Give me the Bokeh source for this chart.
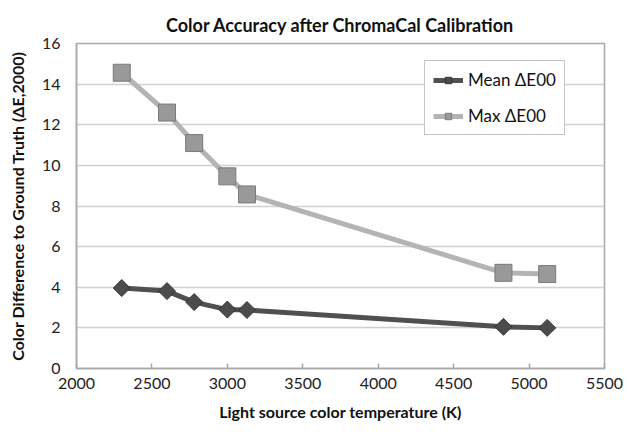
import math
from bokeh.plotting import figure
from bokeh.models import Legend, LegendItem
from bokeh.embed import file_html
from bokeh.resources import INLINE

# Data
temps = [2300, 2600, 2780, 3000, 3130, 4830, 5120]
mean_de = [3.96, 3.81, 3.27, 2.90, 2.88, 2.05, 2.00]
max_de = [14.56, 12.60, 11.10, 9.46, 8.57, 4.71, 4.65]
x_ticks = [2000, 2500, 3000, 3500, 4000, 4500, 5000, 5500]
y_ticks = [0, 2, 4, 6, 8, 10, 12, 14, 16]

FONT = "Lato"

p = figure(width=633, height=435, x_range=(2000, 5500), y_range=(0, 16),
           output_backend="svg", toolbar_location=None,
           min_border_left=76, min_border_right=29, min_border_top=43, min_border_bottom=67,
           title="Color Accuracy after ChromaCal Calibration")

p.title.text_font = FONT
p.title.text_font_size = "18px"
p.title.text_font_style = "bold"
p.title.text_color = "#111111"
p.title.align = "center"
p.title.vertical_align = "top"
p.title.standoff = 12

p.background_fill_color = "white"
p.border_fill_color = "white"
p.outline_line_color = "#a8a8a8"
p.outline_line_width = 1.5

p.xgrid.visible = False
p.ygrid.grid_line_color = "#d0d0d0"
p.ygrid.grid_line_width = 1.5

for ax in (p.xaxis, p.yaxis):
    ax.axis_line_color = "#a8a8a8"
    ax.axis_line_width = 1.5
    ax.major_label_text_font = FONT
    ax.major_label_text_font_size = "16px"
    ax.major_label_text_color = "#222222"
    ax.axis_label_text_font = FONT
    ax.axis_label_text_font_size = "16px"
    ax.axis_label_text_font_style = "bold"
    ax.axis_label_text_color = "#111111"
    ax.minor_tick_line_color = None

p.xaxis.ticker = x_ticks
p.yaxis.ticker = y_ticks
p.xaxis.major_tick_in = 5
p.xaxis.major_tick_out = 0
p.xaxis.major_tick_line_color = "#a8a8a8"
p.xaxis.major_tick_line_width = 1.5
p.yaxis.major_tick_line_color = None
p.xaxis.major_label_standoff = 9
p.yaxis.major_label_standoff = 10
p.xaxis.axis_label = "Light source color temperature (K)"
p.yaxis.axis_label = "Color Difference to Ground Truth (\u0394E,2000)"
p.xaxis.axis_label_standoff = 10
p.yaxis.axis_label_standoff = 12

mean_line = p.line(temps, mean_de, line_color="#505050", line_width=5)
mean_pts = p.scatter(temps, mean_de, marker="square", angle=math.pi / 4, size=12,
                     fill_color="#4c4c4c", line_color="#333333", line_width=1)
max_line = p.line(temps, max_de, line_color="#b4b4b4", line_width=5)
max_pts = p.scatter(temps, max_de, marker="square", size=17,
                    fill_color="#999999", line_color="#7a7a7a", line_width=1)

legend = Legend(items=[
    LegendItem(label="Mean \u0394E00", renderers=[mean_line, mean_pts]),
    LegendItem(label="Max \u0394E00", renderers=[max_line, max_pts]),
], location=(348, 233))
legend.label_text_font = FONT
legend.label_text_font_size = "17px"
legend.label_text_color = "#111111"
legend.border_line_color = "#8a8a8a"
legend.border_line_width = 1.5
legend.background_fill_color = "white"
legend.background_fill_alpha = 1.0
legend.padding = 8
legend.margin = 0
legend.spacing = 15
legend.glyph_width = 30
legend.glyph_height = 16
legend.label_height = 16
legend.label_standoff = 5
p.add_layout(legend, "center")

open("out.html", "w").write(file_html(p, INLINE))
